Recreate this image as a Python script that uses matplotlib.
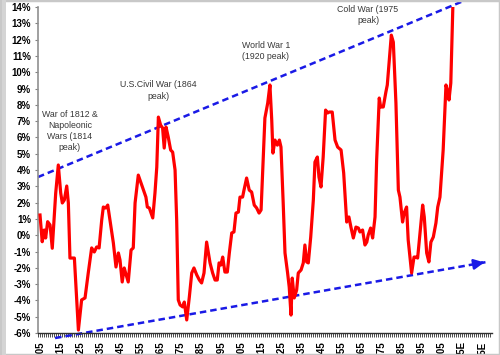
import matplotlib
matplotlib.use("Agg")
import matplotlib.pyplot as plt
from matplotlib.patches import Rectangle

plt.rcParams['font.family'] = ['Liberation Sans', 'DejaVu Sans']

# red series (year, % value)
years = [1805.0, 1806.1, 1807.1, 1807.8, 1808.8, 1810.0, 1811.1, 1812.8, 1814.1, 1815.3,
         1816.1, 1817.1, 1818.3, 1819.1, 1819.9, 1822.1, 1824.1, 1825.7, 1827.4, 1829.0,
         1830.7, 1832.0, 1833.2, 1834.4, 1835.7, 1836.5, 1837.7, 1838.7, 1840.3, 1841.5,
         1842.8, 1844.0, 1844.8, 1845.9, 1846.9, 1847.6, 1848.9, 1850.3, 1851.4, 1852.3,
         1853.9, 1855.6, 1857.7, 1858.4, 1859.4, 1861.1, 1862.2, 1863.1, 1863.9, 1865.0,
         1866.0, 1866.8, 1867.7, 1868.8, 1870.0, 1871.0, 1872.2, 1873.0, 1873.8, 1874.7,
         1876.0, 1876.8, 1878.0, 1879.3, 1880.5, 1881.6, 1883.0, 1884.3, 1885.4, 1886.6,
         1887.9, 1888.7, 1889.6, 1890.9, 1892.1, 1893.2, 1894.1, 1895.0, 1895.9, 1897.0,
         1898.2, 1899.2, 1900.4, 1901.5, 1902.5, 1903.7, 1904.5, 1905.8, 1906.5, 1907.8,
         1909.1, 1910.3, 1911.6, 1912.8, 1914.0, 1915.0, 1916.1, 1916.9, 1918.3, 1919.4,
         1920.3, 1920.9, 1921.9, 1923.1, 1924.1, 1924.9, 1926.0, 1926.9, 1928.2, 1929.0,
         1929.9, 1930.5, 1931.5, 1932.7, 1933.5, 1934.9, 1936.0, 1936.8, 1937.7, 1938.5,
         1939.7, 1941.0, 1941.8, 1943.0, 1943.8, 1944.8, 1945.9, 1947.1, 1948.1, 1948.9,
         1950.4, 1951.8, 1953.1, 1954.8, 1956.1, 1957.6, 1958.7, 1959.7, 1960.9, 1962.2,
         1963.4, 1964.2, 1965.5, 1966.7, 1967.6, 1968.3, 1969.5, 1970.5, 1971.7, 1972.5,
         1973.8, 1974.5, 1975.8, 1977.1, 1977.8, 1978.8, 1979.8, 1980.8, 1982.1, 1983.3,
         1984.1, 1985.4, 1986.2, 1987.4, 1988.2, 1989.9, 1991.1, 1991.9, 1992.9, 1994.1,
         1995.4, 1996.2, 1997.4, 1998.5, 1999.5, 2000.7, 2002.0, 2002.9, 2004.0, 2005.6,
         2007.0, 2007.9, 2008.5, 2009.4, 2010.4]
values = [1.24, -0.40, 0.32, -0.17, 0.83, 0.63, -0.80, 2.57, 4.31, 2.59,
          1.98, 2.16, 3.02, 1.98, -1.40, -1.40, -5.82, -3.97, -3.85, -2.32,
          -0.78, -1.03, -0.72, -0.78, 0.93, 1.73, 1.67, 1.85, 0.50, -0.48,
          -1.95, -1.09, -1.52, -2.87, -2.01, -2.32, -2.87, -0.91, -0.78, 1.98,
          3.69, 3.08, 2.34, 1.73, 1.67, 1.06, 2.59, 4.18, 7.25, 6.76,
          6.58, 5.35, 6.64, 6.03, 5.23, 5.10, 4.00, 0.93, -3.97, -4.28,
          -4.40, -4.10, -5.20, -3.79, -2.32, -2.01, -2.44, -2.75, -2.93, -2.32,
          -0.42, -1.03, -1.70, -2.32, -2.75, -2.75, -1.70, -1.83, -1.34, -2.26,
          -2.26, -1.09, 0.14, 0.20, 1.36, 1.42, 2.34, 2.34, 2.77, 3.51,
          2.77, 2.65, 1.85, 1.67, 1.36, 1.55, 4.80, 7.19, 8.11, 9.22,
          7.07, 5.04, 5.84, 5.53, 5.84, 5.41, 1.98, -1.09, -2.32, -3.18,
          -4.90, -2.63, -3.85, -3.36, -2.32, -2.13, -1.70, -0.60, -1.64, -1.70,
          -0.11, 2.16, 4.49, 4.80, 3.57, 2.96, 4.80, 7.68, 7.50, 7.56,
          7.56, 5.84, 5.41, 5.23, 3.82, 0.81, 1.12, 0.50, -0.17, 0.50,
          0.44, 0.20, 0.32, -0.60, -0.42, 0.01, 0.44, -0.17, 1.12, 4.61,
          8.42, 7.87, 7.87, 8.79, 9.22, 10.75, 12.28, 11.85, 8.11, 2.77,
          2.34, 0.81, 1.36, 1.73, -0.29, -2.32, -1.34, -1.34, -1.40, 0.14,
          1.85, 1.12, -1.09, -1.64, -0.42, -0.11, 0.75, 1.73, 2.34, 5.23,
          9.22, 8.79, 8.30, 9.34, 13.94]

# dashed channel lines (start / end)
upper_years = [1804.0, 2026.0]
upper_vals = [3.57, 14.9]
lower_years = [1812.5, 2027.4]
lower_vals = [-6.31, -1.64]

tick_years = list(range(1805, 2026, 10))
tick_labels = [str(y) + ('E' if y > 2010 else '') for y in tick_years]

notes = [
    ("War of 1812 &\nNapoleonic\nWars (1814\npeak)", 1819.9, 6.39),
    ("U.S.Civil War (1864\npeak)", 1864.0, 8.88),
    ("World War 1\n(1920 peak)", 1917.4, 11.30),
    ("Cold War (1975\npeak)", 1968.2, 13.51),
]

fig = plt.figure(figsize=(5, 3.55), dpi=100)
ax = fig.add_axes([0.076, 0.062, 0.908, 0.918])

ax.plot(years, values, color='#ff0000', lw=2.3, solid_joinstyle='round', zorder=3)

blue = '#1a1ae6'
ax.plot(upper_years, upper_vals, color=blue, lw=1.8, ls=(0, (2.6, 1.6)), clip_on=False, zorder=2)
ax.plot(lower_years, lower_vals, color=blue, lw=1.8, ls=(0, (2.6, 1.6)), clip_on=False, zorder=2)
ax.annotate('', xy=(lower_years[1], lower_vals[1]),
            xytext=(lower_years[1] - 4, lower_vals[1] - 4 * (lower_vals[1] - lower_vals[0]) / (lower_years[1] - lower_years[0])),
            arrowprops=dict(arrowstyle='-|>,head_length=0.6,head_width=0.3', color=blue, lw=1.8),
            annotation_clip=False)

for txt, x, y in notes:
    ax.text(x, y, txt, ha='center', va='center', fontsize=6.3, color='#383838', linespacing=1.3)

ax.set_xlim(1804.0, 2029.9)
ax.set_ylim(-6, 14)
ax.set_yticks(range(-6, 15))
ax.set_yticklabels([f"{v}%" for v in range(-6, 15)])
ax.set_xticks(tick_years)
ax.set_xticklabels(tick_labels, rotation=90)
ax.set_xticks(range(1804, 2030), minor=True)

for lab in ax.get_xticklabels() + ax.get_yticklabels():
    lab.set_fontweight('bold')
    lab.set_fontsize(7)
ax.tick_params(axis='y', length=2.5, width=0.8, color='#808080', pad=2.5)
ax.tick_params(axis='x', which='both', length=3, width=0.6, color='#303030', pad=3)

for s in ['top', 'right']:
    ax.spines[s].set_visible(False)
ax.spines['left'].set_color('#909090')
ax.spines['left'].set_linewidth(1.2)
ax.spines['bottom'].set_color('#303030')
ax.spines['bottom'].set_linewidth(1.0)

# light grey screenshot frame
fig.patches.append(Rectangle((0, 0), 1, 1, transform=fig.transFigure, fill=False,
                             edgecolor='#c8c8c8', lw=2.5))
fig.patches.append(Rectangle((0.004, 0), 0.008, 1, transform=fig.transFigure,
                             facecolor='#d4d4d4', edgecolor='none'))

fig.savefig('out.png', dpi=100)
